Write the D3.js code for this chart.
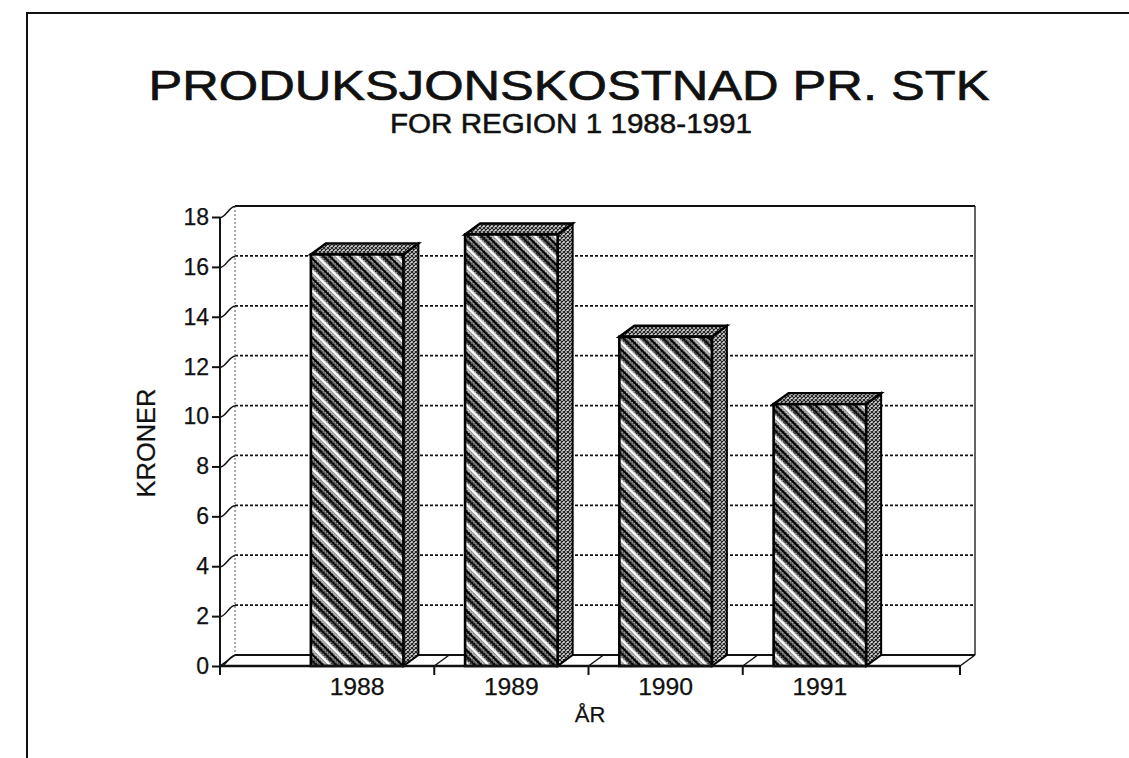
<!DOCTYPE html>
<html>
<head>
<meta charset="utf-8">
<script src="https://cdn.jsdelivr.net/npm/d3@7"></script>
<style>
  body { margin: 0; background: #fff; }
  text { font-family: "Liberation Sans", Arial, sans-serif; fill: #111; stroke: #111; stroke-width: 0.25; }
</style>
</head>
<body>
<svg width="1129" height="758"></svg>
<script>
// data
var years = ["1988", "1989", "1990", "1991"];
var kroner = [16.5, 17.3, 13.2, 10.5];
var yTicks = [0, 2, 4, 6, 8, 10, 12, 14, 16, 18];

var svg = d3.select("svg");

var dx = 15, dy = -11;           // 3d depth offset
var left = 220, right = 960;     // front floor ends

var y = d3.scaleLinear().domain([0, 18]).range([666, 217]);
var x = d3.scaleBand().domain(years).range([280, 897])
          .paddingInner(0.4).paddingOuter(0.2);
var bw = x.bandwidth();
var gap = x.step() * x.paddingInner();

// ---- patterns (scanned hatch look)
var defs = svg.append("defs");

var dith = defs.append("pattern").attr("id", "dith")
  .attr("patternUnits", "userSpaceOnUse").attr("width", 3).attr("height", 3);
dith.append("rect").attr("width", 3).attr("height", 3).attr("fill", "#bbb");
dith.append("rect").attr("width", 1.5).attr("height", 1.5).attr("fill", "#111");
dith.append("rect").attr("x", 1.5).attr("y", 1.5).attr("width", 1.5).attr("height", 1.5).attr("fill", "#333");

var front = defs.append("pattern").attr("id", "front")
  .attr("patternUnits", "userSpaceOnUse").attr("width", 14).attr("height", 14)
  .attr("patternTransform", "rotate(-45)");
front.append("rect").attr("width", 14).attr("height", 14).attr("fill", "url(#dith)");
front.append("rect").attr("x", 0).attr("width", 2.5).attr("height", 14).attr("fill", "#fff");
front.append("rect").attr("x", 4.5).attr("width", 2).attr("height", 14).attr("fill", "#000");
front.append("rect").attr("x", 9).attr("width", 2).attr("height", 14).attr("fill", "#000");
front.append("rect").attr("x", 12.3).attr("width", 0.9).attr("height", 14).attr("fill", "#eee");

var side = defs.append("pattern").attr("id", "side")
  .attr("patternUnits", "userSpaceOnUse").attr("width", 4).attr("height", 4);
side.append("rect").attr("width", 4).attr("height", 4).attr("fill", "#ddd");
side.append("path").attr("d", "M0,0L4,4M4,0L0,4").attr("stroke", "#222").attr("stroke-width", 1.2);

// ---- page frame
svg.append("path").attr("d", "M27,758V13H1129")
  .attr("fill", "none").attr("stroke", "#111").attr("stroke-width", 2);

// ---- titles
svg.append("text").attr("x", 569).attr("y", 100)
  .attr("text-anchor", "middle").attr("font-size", 43)
  .attr("textLength", 841).attr("lengthAdjust", "spacingAndGlyphs")
  .style("stroke-width", 0.7)
  .text("PRODUKSJONSKOSTNAD PR. STK");
svg.append("text").attr("x", 571).attr("y", 133)
  .attr("text-anchor", "middle").attr("font-size", 27)
  .attr("textLength", 362).attr("lengthAdjust", "spacingAndGlyphs")
  .style("stroke-width", 0.5)
  .text("FOR REGION 1 1988-1991");

// ---- back wall & grid
var g = svg.append("g");
g.selectAll(".grid").data(yTicks.filter(d => d > 0 && d < 18)).enter()
  .append("line")
  .attr("x1", left + dx).attr("x2", right + dx)
  .attr("y1", d => y(d) + dy).attr("y2", d => y(d) + dy)
  .attr("stroke", "#111").attr("stroke-width", 1.8).attr("stroke-dasharray", "3,2");

g.append("line").attr("x1", left + dx).attr("x2", right + dx)
  .attr("y1", y(18) + dy).attr("y2", y(18) + dy)
  .attr("stroke", "#111").attr("stroke-width", 2);
g.append("line").attr("x1", right + dx).attr("x2", right + dx)
  .attr("y1", y(18) + dy).attr("y2", y(0) + dy)
  .attr("stroke", "#111").attr("stroke-width", 1.3);
g.append("line").attr("x1", left + dx).attr("x2", left + dx)
  .attr("y1", y(18) + dy).attr("y2", y(0) + dy)
  .attr("stroke", "#555").attr("stroke-width", 1).attr("stroke-dasharray", "2,2");
g.append("line").attr("x1", left + dx).attr("x2", right + dx)
  .attr("y1", y(0) + dy).attr("y2", y(0) + dy)
  .attr("stroke", "#111").attr("stroke-width", 2);

// floor ticks: axis ends plus the gaps between categories
var floorTicks = [left].concat(years.slice(1).map(d => x(d) - gap / 2), [right]);
g.selectAll(".fdiag").data(floorTicks).enter().append("line")
  .attr("x1", d => d).attr("y1", y(0))
  .attr("x2", d => d + dx).attr("y2", y(0) + dy)
  .attr("stroke", "#111").attr("stroke-width", 1.5);
g.selectAll(".ftick").data(floorTicks).enter().append("line")
  .attr("x1", d => d).attr("x2", d => d)
  .attr("y1", y(0)).attr("y2", y(0) + 9)
  .attr("stroke", "#111").attr("stroke-width", 2);

// ---- y axis with slanted tick connectors
var yAxis = svg.append("g").attr("transform", "translate(" + left + ",0)")
  .call(d3.axisLeft(y).tickValues(yTicks).tickSize(8).tickPadding(3));
yAxis.select(".domain").remove();
yAxis.selectAll(".tick line").attr("stroke", "#111").attr("stroke-width", 2);
yAxis.selectAll(".tick text").attr("font-size", 23).attr("fill", "#111")
  .attr("font-family", "Liberation Sans, Arial, sans-serif");
yAxis.selectAll(".tick").append("path")
  .attr("d", "M0,0C6,0 9," + dy + " " + dx + "," + dy)
  .attr("fill", "none").attr("stroke", "#111").attr("stroke-width", 1.5);

svg.append("line").attr("x1", left).attr("x2", left)
  .attr("y1", y(0)).attr("y2", y(18))
  .attr("stroke", "#111").attr("stroke-width", 2);

// ---- bars
var bars = svg.selectAll(".bar").data(years).enter().append("g");
bars.append("path")
  .attr("d", (d, i) => {
    var x0 = x(d) + bw, t = y(kroner[i]), b = y(0);
    return "M" + x0 + "," + t + "L" + (x0 + dx) + "," + (t + dy) +
           "L" + (x0 + dx) + "," + (b + dy) + "L" + x0 + "," + b + "Z";
  })
  .attr("fill", "url(#side)").attr("stroke", "#000").attr("stroke-width", 2);
bars.append("path")
  .attr("d", (d, i) => {
    var x0 = x(d), t = y(kroner[i]);
    return "M" + x0 + "," + t + "L" + (x0 + dx) + "," + (t + dy) +
           "L" + (x0 + bw + dx) + "," + (t + dy) + "L" + (x0 + bw) + "," + t + "Z";
  })
  .attr("fill", "url(#side)").attr("stroke", "#000").attr("stroke-width", 2.4);
bars.append("rect")
  .attr("x", d => x(d)).attr("width", bw)
  .attr("y", (d, i) => y(kroner[i]))
  .attr("height", (d, i) => y(0) - y(kroner[i]))
  .attr("fill", "url(#front)").attr("stroke", "#000").attr("stroke-width", 2.6);

// front floor edge
svg.append("line").attr("x1", left).attr("x2", right)
  .attr("y1", y(0)).attr("y2", y(0))
  .attr("stroke", "#111").attr("stroke-width", 2.5);

// ---- category labels and axis titles
svg.selectAll(".xlab").data(years).enter().append("text")
  .attr("x", d => x(d) + bw / 2).attr("y", 695)
  .attr("text-anchor", "middle").attr("font-size", 23)
  .attr("textLength", 55).attr("lengthAdjust", "spacingAndGlyphs")
  .text(d => d);

svg.append("text").attr("x", (left + right) / 2).attr("y", 722)
  .attr("text-anchor", "middle").attr("font-size", 22).text("ÅR");

svg.append("text").attr("transform", "translate(155,443) rotate(-90)")
  .attr("text-anchor", "middle").attr("font-size", 25)
  .attr("textLength", 109).attr("lengthAdjust", "spacingAndGlyphs")
  .text("KRONER");
</script>
</body>
</html>
